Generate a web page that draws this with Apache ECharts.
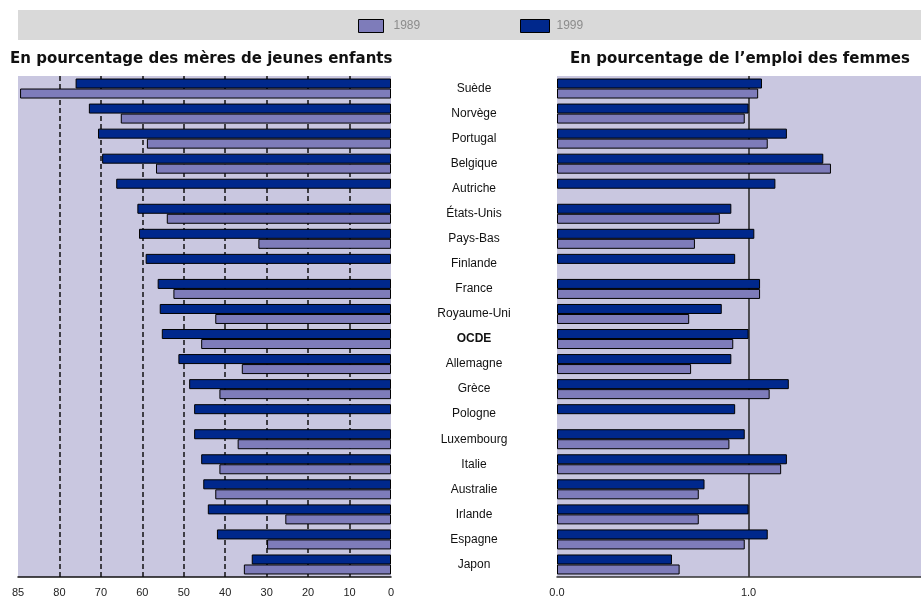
<!DOCTYPE html>
<html lang="fr">
<head>
    <meta charset="UTF-8">
    <title>Emploi à temps partiel</title>
    <script src="https://cdn.jsdelivr.net/npm/echarts@6/dist/echarts.min.js"></script>
    <style>
        body { margin: 0; background: #fff; }
    </style>
</head>
<body>
    <div id="main" style="width: 921px;height:601px;"></div>
    <script type="text/javascript">
       // categories, du haut vers le bas
       var countries = ['Suède', 'Norvège', 'Portugal', 'Belgique', 'Autriche', 'États-Unis', 'Pays-Bas',
           'Finlande', 'France', 'Royaume-Uni', 'OCDE', 'Allemagne', 'Grèce', 'Pologne', 'Luxembourg',
           'Italie', 'Australie', 'Irlande', 'Espagne', 'Japon'];

       // en pourcentage des mères de jeunes enfants
       var meres1999 = [76.1, 72.9, 70.7, 69.7, 66.3, 61.2, 60.8, 59.2, 56.3, 55.8,
           55.3, 51.3, 48.7, 47.5, 47.5, 45.8, 45.3, 44.2, 42.0, 33.6];
       var meres1989 = [89.5, 65.2, 58.9, 56.7, null, 54.1, 32.0, null, 52.5, 42.4,
           45.8, 36.0, 41.4, null, 37.0, 41.4, 42.4, 25.5, 29.9, 35.5];

       // en pourcentage de l'emploi des femmes
       var emploi1999 = [1.07, 1.00, 1.20, 1.39, 1.14, 0.91, 1.03, 0.93, 1.06, 0.86,
           1.00, 0.91, 1.21, 0.93, 0.98, 1.20, 0.77, 1.00, 1.10, 0.60];
       var emploi1989 = [1.05, 0.98, 1.10, 1.43, null, 0.85, 0.72, null, 1.06, 0.69,
           0.92, 0.70, 1.11, null, 0.90, 1.17, 0.74, 0.74, 0.98, 0.64];

       // graduations de l'axe gauche (0 à droite)
       var leftTicks = ['0', '10', '20', '30', '40', '50', '60', '70', '80', '85'];

       var c1999 = '#00288c';
       var c1989 = '#7e7cba';
       var fond = '#c9c7e0';

       var myChart = echarts.init(document.getElementById('main'));

       var barStyle = function (color) {
           return { color: color, borderColor: '#000', borderWidth: 1 };
       };

       var option = {
           animation: false,
           textStyle: { fontFamily: 'Liberation Sans' },
           graphic: [{
               type: 'rect',
               shape: { x: 18, y: 10, width: 903, height: 30 },
               style: { fill: '#d9d9d9' },
               z: -10
           }],
           title: [{
               text: 'En pourcentage des mères de jeunes enfants',
               left: 5, top: 47,
               textStyle: { fontFamily: 'DejaVu Sans', fontSize: 15, fontWeight: 'bold', color: '#111' }
           }, {
               text: 'En pourcentage de l\u2019emploi des femmes',
               left: 565, top: 47,
               textStyle: { fontFamily: 'DejaVu Sans', fontSize: 15, fontWeight: 'bold', color: '#111' }
           }],
           legend: [{
               data: ['1989'], left: 353, top: 14, icon: 'rect',
               itemWidth: 25, itemHeight: 13, itemGap: 10,
               itemStyle: { borderColor: '#000', borderWidth: 1 },
               textStyle: { fontSize: 12, color: '#8c8c8c', padding: [0, 0, 0, 5] }
           }, {
               data: ['1999'], left: 515, top: 14, icon: 'rect',
               itemWidth: 29, itemHeight: 13, itemGap: 7,
               itemStyle: { borderColor: '#000', borderWidth: 1 },
               textStyle: { fontSize: 12, color: '#8c8c8c', padding: [0, 0, 0, 2] }
           }],
           grid: [
               { left: 18, right: 530, top: 76, bottom: 24, show: true, backgroundColor: fond, borderWidth: 0,
                 outerBoundsMode: 'none' },
               { left: 557, right: 0, top: 76, bottom: 24, show: true, backgroundColor: fond, borderWidth: 0,
                 outerBoundsMode: 'none' }
           ],
           xAxis: [{
               gridIndex: 0, type: 'value', inverse: true,
               min: 0, max: 90, interval: 10,
               axisLine: { show: true, lineStyle: { color: '#111', width: 1.5 } },
               axisTick: { show: false },
               axisLabel: {
                   fontSize: 11, color: '#222', margin: 10,
                   formatter: function (v) { return leftTicks[Math.round(v / 10)]; }
               },
               splitLine: {
                   show: true,
                   lineStyle: {
                       type: [5, 3], width: 1.5,
                       color: ['rgba(0,0,0,0)', '#111', '#111', '#111', '#111', '#111', '#111', '#111', '#111', 'rgba(0,0,0,0)']
                   }
               }
           }, {
               gridIndex: 1, type: 'value',
               min: 0, max: 1.9, interval: 1,
               axisLine: { show: true, lineStyle: { color: '#333', width: 1.5 } },
               axisTick: { show: false },
               axisLabel: {
                   fontSize: 11, color: '#222', margin: 10, showMaxLabel: false,
                   formatter: function (v) { return v.toFixed(1); }
               },
               splitLine: {
                   show: true,
                   lineStyle: { width: 1.5, color: ['rgba(0,0,0,0)', '#222'] }
               }
           }],
           yAxis: [{
               gridIndex: 0, type: 'category', inverse: true, data: countries,
               axisLine: { show: false }, axisTick: { show: false }, axisLabel: { show: false }
           }, {
               gridIndex: 1, type: 'category', inverse: true, data: countries,
               axisLine: { show: false }, axisTick: { show: false },
               axisLabel: {
                   align: 'center', margin: 83, fontSize: 12, color: '#111',
                   formatter: function (v) { return v === 'OCDE' ? '{b|' + v + '}' : v; },
                   rich: { b: { fontWeight: 'bold', fontSize: 12, color: '#111' } }
               }
           }],
           series: [
               { name: '1999', type: 'bar', xAxisIndex: 0, yAxisIndex: 0, data: meres1999,
                 barWidth: 10, barGap: '0%', itemStyle: barStyle(c1999) },
               { name: '1989', type: 'bar', xAxisIndex: 0, yAxisIndex: 0, data: meres1989,
                 barWidth: 10, barGap: '0%', itemStyle: barStyle(c1989) },
               { name: '1999', type: 'bar', xAxisIndex: 1, yAxisIndex: 1, data: emploi1999,
                 barWidth: 10, barGap: '0%', itemStyle: barStyle(c1999) },
               { name: '1989', type: 'bar', xAxisIndex: 1, yAxisIndex: 1, data: emploi1989,
                 barWidth: 10, barGap: '0%', itemStyle: barStyle(c1989) }
           ]
       };

       myChart.setOption(option);
    </script>
</body>
</html>
